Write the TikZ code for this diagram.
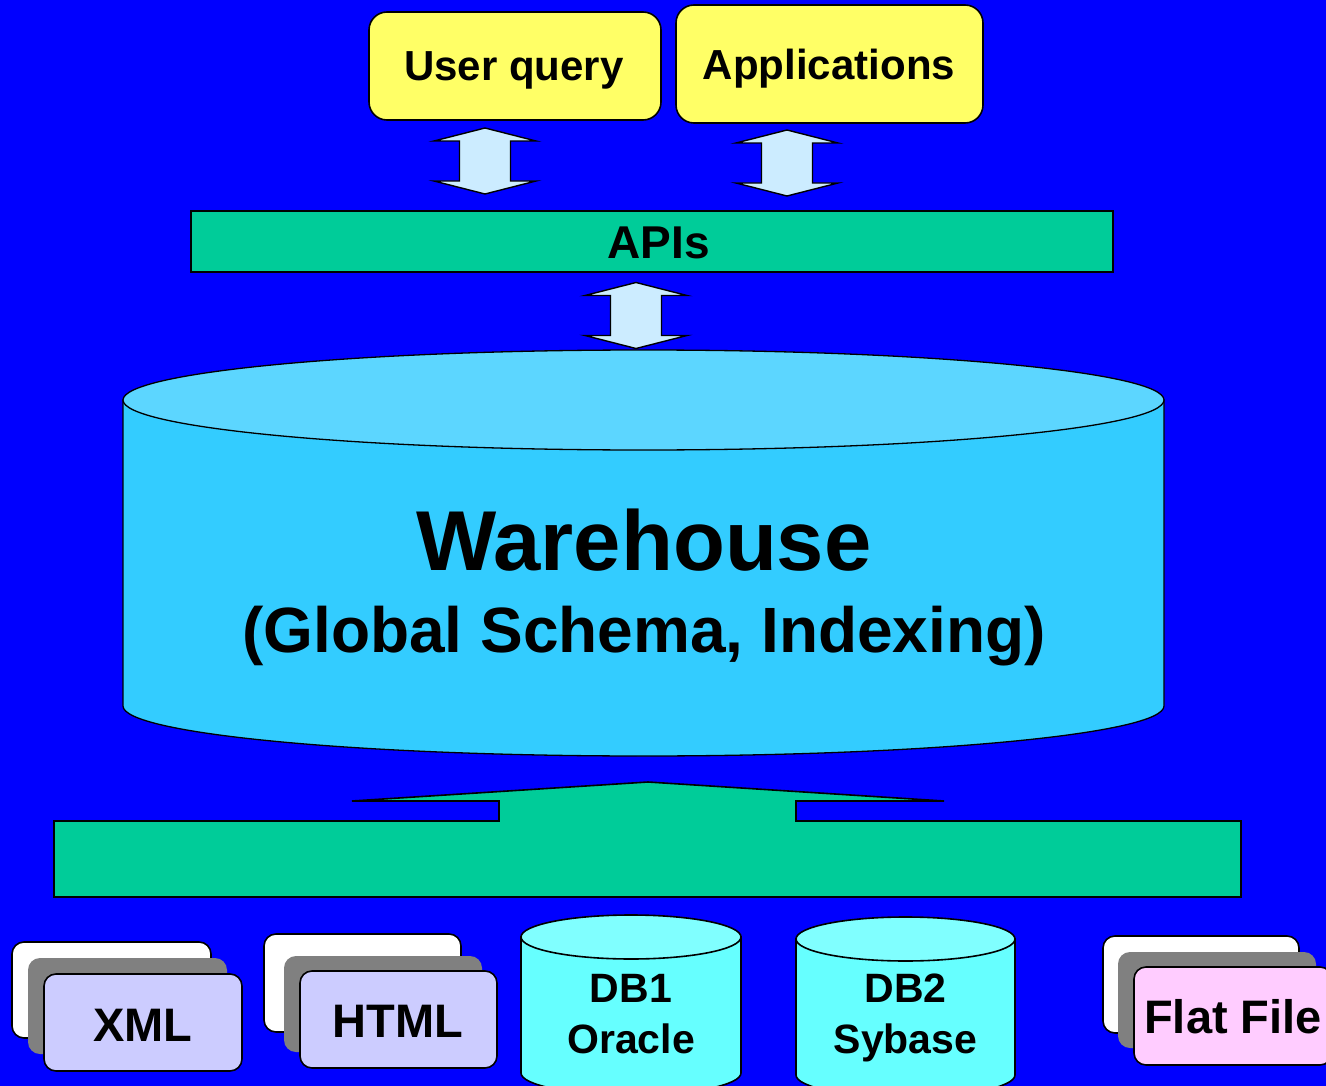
\documentclass[tikz,border=0pt]{standalone}
\usepackage{fontspec}
\setmainfont{Liberation Sans}
\begin{document}
\begin{tikzpicture}[x=1pt,y=-1pt,
  outline/.style={draw=black,line width=1.6pt,line join=miter},
  ybox/.style={outline,fill=boxyellow,rounded corners=18pt},
  greenbar/.style={outline,fill=apigreen},
  doccard/.style={outline,rounded corners=12pt},
  lbl/.style={anchor=base,inner sep=0pt,text=black,font=\bfseries\fontsize{#1}{#1}\selectfont},
  updown/.pic={
    \draw[outline,line width=1.4pt,fill=arrowblue]
      (0,-33) -- (51,-20) -- (25.5,-20) -- (25.5,20) -- (51,20) -- (0,33)
      -- (-51,20) -- (-25.5,20) -- (-25.5,-20) -- (-51,-20) -- cycle;
  }]
\definecolor{bgblue}{RGB}{0,0,255}
\definecolor{boxyellow}{RGB}{255,255,102}
\definecolor{apigreen}{RGB}{0,204,153}
\definecolor{arrowblue}{RGB}{204,236,255}
\definecolor{whtop}{RGB}{92,214,255}
\definecolor{whside}{RGB}{51,204,255}
\definecolor{dbtop}{RGB}{128,255,255}
\definecolor{dbside}{RGB}{102,255,255}
\definecolor{lavender}{RGB}{204,204,255}
\definecolor{cardgray}{RGB}{128,128,128}
\definecolor{pinkcard}{RGB}{255,204,255}

\useasboundingbox (0,0) rectangle (1326,1086);
\clip (0,0) rectangle (1326,1086);
\fill[bgblue] (0,0) rectangle (1326,1086);

% clients on top
\node[ybox,minimum width=292pt,minimum height=108pt] (uq) at (515,66) {};
\node[lbl=42] (uqt) at (514,81) {User query};
\node[ybox,minimum width=307pt,minimum height=118pt] (apps) at (829.5,64) {};
\node[lbl=42] (appst) at (829,80) {Applications};

% two-way arrows between clients and the API layer
\pic at (485,161) {updown};
\pic at (787,163) {updown};

% API layer
\node[greenbar,minimum width=922pt,minimum height=61pt] (apis) at (652,241.5) {};
\node[lbl=46] (apist) at (658.5,259) {APIs};

\pic at (636,315.5) {updown};

% warehouse cylinder
\draw[outline,line width=1.3pt,fill=whside]
  (123,400) -- (123,706) arc[start angle=180,end angle=0,x radius=520.5,y radius=50]
  -- (1164,400) -- cycle;
\draw[outline,line width=1.3pt,fill=whtop] (643.5,400) ellipse [x radius=520.5,y radius=50];
\node[lbl=85] (wh) at (644,570) {Warehouse};
\node[lbl=64] (whsub) at (644,652) {(Global Schema, Indexing)};

% integration layer with upward block arrow
\draw[outline,fill=apigreen]
  (54,821) -- (499,821) -- (499,801) -- (352,801) -- (648,782) -- (944,801)
  -- (796,801) -- (796,821) -- (1241,821) -- (1241,897) -- (54,897) -- cycle;

% XML document stack
\draw[doccard,fill=white] (12,942) rectangle (211,1038);
\fill[cardgray,rounded corners=12pt] (28,958) rectangle (227,1054);
\draw[doccard,fill=lavender] (44,974) rectangle (242,1071);
\node[lbl=47] (xml) at (143,1041) {XML};

% HTML document stack
\draw[doccard,fill=white] (264,934) rectangle (461,1032);
\fill[cardgray,rounded corners=12pt] (284,956) rectangle (482,1052);
\draw[doccard,fill=lavender] (300,971) rectangle (497,1068);
\node[lbl=47] (html) at (398,1037) {HTML};

% source databases
\draw[outline,fill=dbside]
  (521,937) -- (521,1073) arc[start angle=180,end angle=0,x radius=110,y radius=22]
  -- (741,937) -- cycle;
\draw[outline,fill=dbtop] (631,937) ellipse [x radius=110,y radius=22];
\node[lbl=41] (db1) at (631,1002) {DB1};
\node[lbl=41] (ora) at (631,1053) {Oracle};

\draw[outline,fill=dbside]
  (796,939) -- (796,1075) arc[start angle=180,end angle=0,x radius=109.5,y radius=22]
  -- (1015,939) -- cycle;
\draw[outline,fill=dbtop] (905.5,939) ellipse [x radius=109.5,y radius=22];
\node[lbl=41] (db2) at (905.5,1002) {DB2};
\node[lbl=41] (syb) at (905.5,1053) {Sybase};

% flat file stack
\draw[doccard,fill=white] (1103,936) rectangle (1299,1033);
\fill[cardgray,rounded corners=12pt] (1118,952) rectangle (1316,1048);
\draw[doccard,fill=pinkcard] (1134,967) rectangle (1332,1065);
\node[lbl=47] (flat) at (1233,1033) {Flat File};
\end{tikzpicture}
\end{document}
